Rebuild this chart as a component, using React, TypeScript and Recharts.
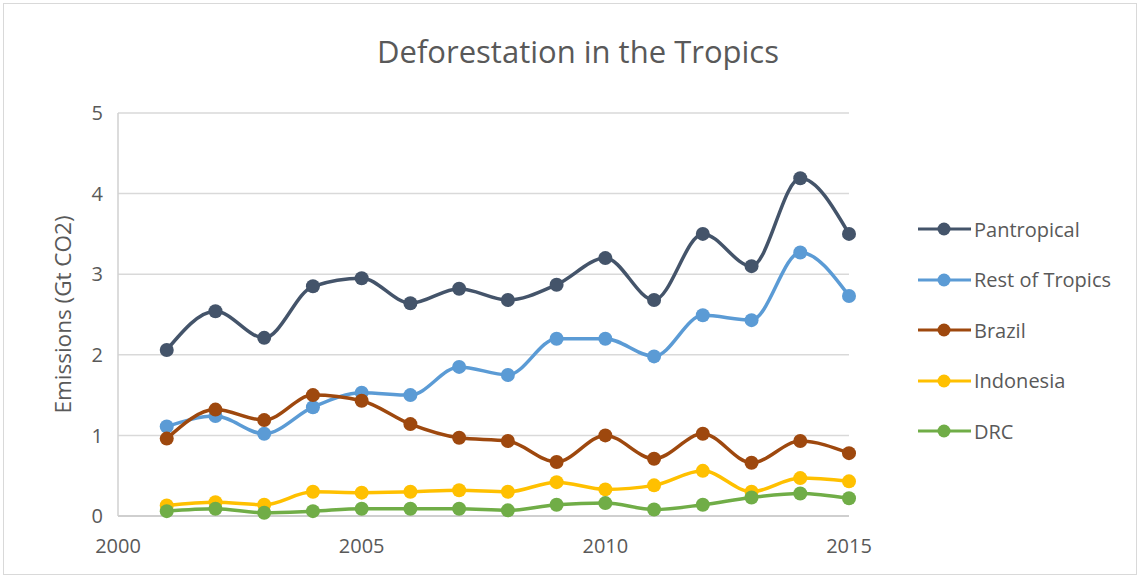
import React from "react";
import { LineChart, Line, XAxis, YAxis, CartesianGrid, Label } from "recharts";

const years = [2001, 2002, 2003, 2004, 2005, 2006, 2007, 2008, 2009, 2010, 2011, 2012, 2013, 2014, 2015];
const pantropical = [2.06, 2.54, 2.21, 2.85, 2.95, 2.64, 2.82, 2.68, 2.87, 3.2, 2.68, 3.5, 3.1, 4.19, 3.5];
const restOfTropics = [1.11, 1.24, 1.02, 1.35, 1.53, 1.5, 1.85, 1.75, 2.2, 2.2, 1.98, 2.49, 2.43, 3.27, 2.73];
const brazil = [0.96, 1.32, 1.19, 1.5, 1.43, 1.14, 0.97, 0.93, 0.67, 1.0, 0.71, 1.02, 0.66, 0.93, 0.78];
const indonesia = [0.13, 0.17, 0.14, 0.3, 0.29, 0.3, 0.32, 0.3, 0.42, 0.33, 0.38, 0.56, 0.3, 0.47, 0.43];
const drc = [0.06, 0.09, 0.04, 0.06, 0.09, 0.09, 0.09, 0.07, 0.14, 0.16, 0.08, 0.14, 0.23, 0.28, 0.22];

const xTicks = [2000, 2005, 2010, 2015];
const yTicks = [0, 1, 2, 3, 4, 5];

const series = [
    { key: "pantropical", name: "Pantropical", color: "#44546A", values: pantropical },
    { key: "rest", name: "Rest of Tropics", color: "#5B9BD5", values: restOfTropics },
    { key: "brazil", name: "Brazil", color: "#9E480E", values: brazil },
    { key: "indonesia", name: "Indonesia", color: "#FFC000", values: indonesia },
    { key: "drc", name: "DRC", color: "#70AD47", values: drc },
];

const data = years.map((year, i) => {
    const row: Record<string, number> = { year };
    series.forEach((s) => (row[s.key] = s.values[i]));
    return row;
});

const FONT = "'Open Sans', sans-serif";
const TEXT = "#595959";

function LegendBox() {
    return (
        <div style={{ fontFamily: FONT, color: TEXT, fontSize: 20 }}>
            {series.map((s) => (
                <div key={s.key} style={{ display: "flex", alignItems: "center", height: 50.5 }}>
                    <svg width={56} height={16}>
                        <line x1={0} y1={8} x2={53} y2={8} stroke={s.color} strokeWidth={3} />
                        <circle cx={26} cy={8} r={6.5} fill={s.color} />
                    </svg>
                    <span>{s.name}</span>
                </div>
            ))}
        </div>
    );
}

export default function App() {
    return (
        <div style={{ position: "relative", width: 1141, height: 578, background: "#fff" }}>
            <style>{`body{margin:0}`}</style>
            <div
                style={{
                    position: "absolute",
                    left: 3,
                    top: 3,
                    width: 1134,
                    height: 572,
                    border: "1px solid #d9d9d9",
                    boxSizing: "border-box",
                }}
            />
            <div
                style={{
                    position: "absolute",
                    top: 30,
                    left: 0,
                    width: 1156,
                    textAlign: "center",
                    fontFamily: FONT,
                    fontSize: 31,
                    color: TEXT,
                }}
            >
                Deforestation in the Tropics
            </div>
            <div style={{ position: "absolute", left: 0, top: 0 }}>
                <LineChart width={1141} height={578} data={data} margin={{ top: 113, right: 292, left: 30, bottom: 30 }}>
                    <CartesianGrid vertical={false} stroke="#d9d9d9" strokeWidth={1.5} />
                    <XAxis
                        dataKey="year"
                        type="number"
                        domain={[2000, 2015]}
                        ticks={xTicks}
                        tickLine={false}
                        tickSize={0}
                        tickMargin={23}
                        height={32}
                        axisLine={{ stroke: "#c8c8c8", strokeWidth: 1.5 }}
                        tick={{ fill: TEXT, fontSize: 20, fontFamily: FONT }}
                    />
                    <YAxis
                        type="number"
                        domain={[0, 5]}
                        ticks={yTicks}
                        tickLine={false}
                        tickSize={0}
                        tickMargin={15}
                        width={88}
                        axisLine={{ stroke: "#d0d0d0", strokeWidth: 1.5 }}
                        tick={{ fill: TEXT, fontSize: 20, fontFamily: FONT }}
                    >
                        <Label
                            value="Emissions (Gt CO2)"
                            angle={-90}
                            position="insideLeft"
                            offset={33}
                            style={{ textAnchor: "middle", fill: TEXT, fontSize: 22.5, fontFamily: FONT }}
                        />
                    </YAxis>
                    {series.map((s) => (
                        <Line
                            key={s.key}
                            dataKey={s.key}
                            name={s.name}
                            type="monotone"
                            stroke={s.color}
                            strokeWidth={3.5}
                            dot={{ r: 7, fill: s.color, stroke: s.color, strokeWidth: 0 }}
                            activeDot={false}
                            isAnimationActive={false}
                        />
                    ))}
                </LineChart>
            </div>
            <div style={{ position: "absolute", left: 918, top: 204 }}>
                <LegendBox />
            </div>
        </div>
    );
}
